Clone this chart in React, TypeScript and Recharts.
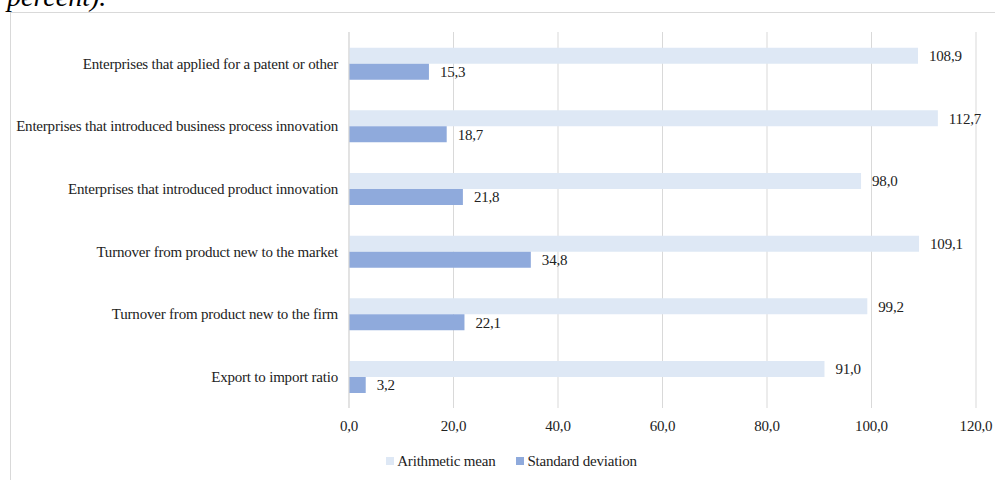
import React from 'react'
import {
  BarChart, Bar, XAxis, YAxis, CartesianGrid, Legend, LabelList,
} from 'recharts'

const categories = [
  'Enterprises that applied for a patent or other',
  'Enterprises that introduced business process innovation',
  'Enterprises that introduced product innovation',
  'Turnover from product new to the market',
  'Turnover from product new to the firm',
  'Export to import ratio',
]
const meanValues = [108.9, 112.7, 98.0, 109.1, 99.2, 91.0]
const sdValues = [15.3, 18.7, 21.8, 34.8, 22.1, 3.2]
const xTicks = [0, 20, 40, 60, 80, 100, 120]

const MEAN_COLOR = '#dee8f5'
const SD_COLOR = '#8faadc'
const GRID = '#d9d9d9'
const TEXT = '#222'
const FONT_SIZE = 15
const SPACING = -0.2

const rows = categories.map((name, i) => ({ name, mean: meanValues[i], sd: sdValues[i] }))

// decimal comma, one digit
const fmt = (v: number) => Number(v).toFixed(1).replace('.', ',')

// plain svg text so long category names stay on one line
function CategoryTick({ x, y, payload }: any) {
  return (
    <text x={x} y={y} dy="0.355em" textAnchor="end" fontSize={FONT_SIZE} fill={TEXT} letterSpacing={SPACING}>
      {payload.value}
    </text>
  )
}

function LegendBox() {
  const items = [
    { label: 'Arithmetic mean', color: MEAN_COLOR },
    { label: 'Standard deviation', color: SD_COLOR },
  ]
  return (
    <div style={{ display: 'flex', justifyContent: 'center', alignItems: 'center', height: 16, paddingLeft: 36 }}>
      {items.map((it, i) => (
        <div key={it.label} style={{ display: 'flex', alignItems: 'center', marginLeft: i ? 21 : 0 }}>
          <span style={{ width: 8, height: 8, background: it.color, marginRight: 3, display: 'inline-block' }} />
          <span style={{ fontSize: FONT_SIZE, color: TEXT, letterSpacing: SPACING }}>{it.label}</span>
        </div>
      ))}
    </div>
  )
}

export default function App() {
  return (
    <div style={{ position: 'absolute', left: 0, top: 0, width: 995, height: 480, overflow: 'hidden', background: '#fff', fontFamily: '"Liberation Serif", serif' }}>
      <svg width={995} height={20} style={{ position: 'absolute', left: 0, top: 0 }}>
        <text x={7} y={5.5} fontSize={28} fontStyle="italic" fill="#000" fontFamily='"Liberation Serif", serif'>percent).</text>
      </svg>
      <div style={{ position: 'absolute', left: 10, top: 12, borderLeft: `1px solid ${GRID}`, borderTop: `1px solid ${GRID}` }}>
        <BarChart
          width={1000}
          height={467}
          data={rows}
          layout="vertical"
          margin={{ top: 19, right: 35, left: 0, bottom: 11 }}
          barCategoryGap="25%"
          barGap={0}
        >
          <CartesianGrid horizontal={false} stroke={GRID} />
          <XAxis
            type="number"
            domain={[0, 120]}
            ticks={xTicks}
            tickFormatter={fmt}
            axisLine={false}
            tickLine={false}
            tickSize={0}
            tickMargin={12}
            height={45}
            tick={{ fontSize: FONT_SIZE, fill: TEXT, letterSpacing: SPACING }}
          />
          <YAxis
            type="category"
            dataKey="name"
            width={338}
            axisLine={{ stroke: GRID }}
            tickLine={false}
            tickSize={0}
            tickMargin={11}
            interval={0}
            tick={<CategoryTick />}
          />
          <Legend verticalAlign="bottom" content={() => <LegendBox />} />
          <Bar dataKey="mean" name="Arithmetic mean" fill={MEAN_COLOR} isAnimationActive={false}>
            <LabelList dataKey="mean" position="right" offset={11} formatter={fmt} fontSize={FONT_SIZE} fill={TEXT} letterSpacing={SPACING} />
          </Bar>
          <Bar dataKey="sd" name="Standard deviation" fill={SD_COLOR} isAnimationActive={false}>
            <LabelList dataKey="sd" position="right" offset={11} formatter={fmt} fontSize={FONT_SIZE} fill={TEXT} letterSpacing={SPACING} />
          </Bar>
        </BarChart>
      </div>
    </div>
  )
}
